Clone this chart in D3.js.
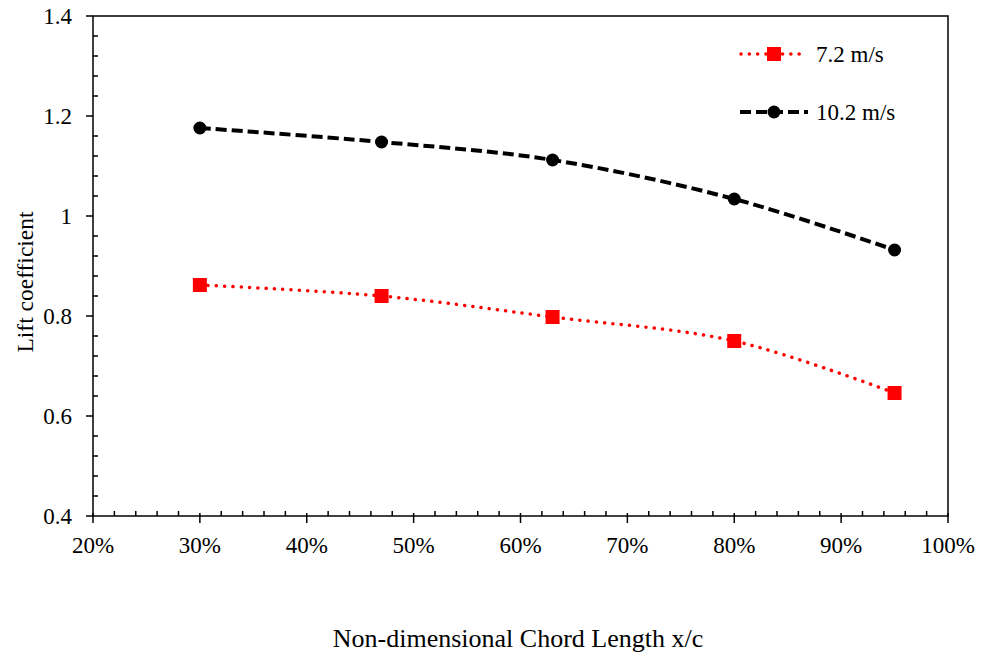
<!DOCTYPE html>
<html>
<head>
<meta charset="utf-8">
<script src="https://cdn.jsdelivr.net/npm/d3@7"></script>
<style>
  body { margin: 0; background: #fff; }
  svg { display: block; }
  text { font-family: "Liberation Serif", "Times New Roman", serif; fill: #000; }
</style>
</head>
<body>
<div id="chart"></div>
<script>
const chordPos = [0.30, 0.47, 0.63, 0.80, 0.95];
const lift72 = [0.862, 0.840, 0.798, 0.750, 0.646];
const lift102 = [1.176, 1.148, 1.112, 1.034, 0.932];
const seriesNames = ["7.2 m/s", "10.2 m/s"];
const xTicks = [0.2, 0.3, 0.4, 0.5, 0.6, 0.7, 0.8, 0.9, 1.0];
const yTicks = [0.4, 0.6, 0.8, 1.0, 1.2, 1.4];

const width = 983;
const height = 657;
const margin = { left: 93, right: 35, top: 16, bottom: 141 };

const svg = d3.select("#chart")
  .append("svg")
  .attr("width", width)
  .attr("height", height);

const x = d3.scaleLinear().domain([0.2, 1.0]).range([margin.left, width - margin.right]);
const y = d3.scaleLinear().domain([0.4, 1.4]).range([height - margin.bottom, margin.top]);

// frame
svg.append("rect")
  .attr("x", x(0.2))
  .attr("y", y(1.4))
  .attr("width", x(1.0) - x(0.2))
  .attr("height", y(0.4) - y(1.4))
  .attr("fill", "none")
  .attr("stroke", "#000")
  .attr("stroke-width", 1.5);

// y axis: major ticks outside, minor inside
const yMinor = d3.range(0.44, 1.4, 0.04).filter(v => Math.abs(v * 5 - Math.round(v * 5)) > 1e-6);
svg.append("g")
  .selectAll("line")
  .data(yTicks)
  .enter()
  .append("line")
  .attr("x1", x(0.2) - 7)
  .attr("x2", x(0.2))
  .attr("y1", d => y(d))
  .attr("y2", d => y(d))
  .attr("stroke", "#000")
  .attr("stroke-width", 1.5);
svg.append("g")
  .selectAll("line")
  .data(yMinor)
  .enter()
  .append("line")
  .attr("x1", x(0.2))
  .attr("x2", x(0.2) + 5)
  .attr("y1", d => y(d))
  .attr("y2", d => y(d))
  .attr("stroke", "#000")
  .attr("stroke-width", 1.5);
svg.append("g")
  .selectAll("text")
  .data(yTicks)
  .enter()
  .append("text")
  .attr("x", x(0.2) - 21)
  .attr("y", d => y(d))
  .attr("dy", "0.33em")
  .attr("text-anchor", "end")
  .attr("font-size", "23px")
  .text(d => d === 1 ? "1" : d3.format(".1f")(d));

// x axis
const xMinor = d3.range(0.22, 1.0, 0.02).filter(v => Math.abs(v * 10 - Math.round(v * 10)) > 1e-6);
svg.append("g")
  .selectAll("line")
  .data(xTicks)
  .enter()
  .append("line")
  .attr("x1", d => x(d))
  .attr("x2", d => x(d))
  .attr("y1", y(0.4) - 3)
  .attr("y2", y(0.4) + 7)
  .attr("stroke", "#000")
  .attr("stroke-width", 1.5);
svg.append("g")
  .selectAll("line")
  .data(xMinor)
  .enter()
  .append("line")
  .attr("x1", d => x(d))
  .attr("x2", d => x(d))
  .attr("y1", y(0.4) - 5)
  .attr("y2", y(0.4))
  .attr("stroke", "#000")
  .attr("stroke-width", 1.5);
svg.append("g")
  .selectAll("text")
  .data(xTicks)
  .enter()
  .append("text")
  .attr("x", d => x(d))
  .attr("y", y(0.4) + 37)
  .attr("text-anchor", "middle")
  .attr("font-size", "23px")
  .text(d => d3.format(".0%")(d));

// axis titles
svg.append("text")
  .attr("transform", "translate(33, 282) rotate(-90)")
  .attr("text-anchor", "middle")
  .attr("font-size", "23.5px")
  .text("Lift coefficient");
svg.append("text")
  .attr("x", 518)
  .attr("y", 647)
  .attr("text-anchor", "middle")
  .attr("font-size", "26px")
  .text("Non-dimensional Chord Length x/c");

const line = d3.line()
  .x(d => x(d[0]))
  .y(d => y(d[1]))
  .curve(d3.curveCatmullRom.alpha(0.5));

const redData = chordPos.map((c, i) => [c, lift72[i]]);
const blackData = chordPos.map((c, i) => [c, lift102[i]]);

svg.append("path")
  .datum(redData)
  .attr("d", line)
  .attr("fill", "none")
  .attr("stroke", "#ff0000")
  .attr("stroke-width", 3.5)
  .attr("stroke-linecap", "round")
  .attr("stroke-dasharray", "0.1,8.2");

svg.append("path")
  .datum(blackData)
  .attr("d", line)
  .attr("fill", "none")
  .attr("stroke", "#000")
  .attr("stroke-width", 4)
  .attr("stroke-dasharray", "11,5");

svg.append("g")
  .selectAll("rect")
  .data(redData)
  .enter()
  .append("rect")
  .attr("x", d => x(d[0]) - 7)
  .attr("y", d => y(d[1]) - 7)
  .attr("width", 14)
  .attr("height", 14)
  .attr("fill", "#ff0000");

svg.append("g")
  .selectAll("circle")
  .data(blackData)
  .enter()
  .append("circle")
  .attr("cx", d => x(d[0]))
  .attr("cy", d => y(d[1]))
  .attr("r", 6.5)
  .attr("fill", "#000");

// legend
const lg = svg.append("g");
lg.append("line")
  .attr("x1", 741).attr("x2", 807).attr("y1", 54).attr("y2", 54)
  .attr("stroke", "#ff0000").attr("stroke-width", 3.5)
  .attr("stroke-linecap", "round").attr("stroke-dasharray", "0.1,8.2");
lg.append("rect")
  .attr("x", 767).attr("y", 47).attr("width", 14).attr("height", 14)
  .attr("fill", "#ff0000");
lg.append("text")
  .attr("x", 816).attr("y", 62)
  .attr("font-size", "23px")
  .text(seriesNames[0]);

lg.append("line")
  .attr("x1", 740).attr("x2", 808).attr("y1", 112).attr("y2", 112)
  .attr("stroke", "#000").attr("stroke-width", 4)
  .attr("stroke-dasharray", "11,5");
lg.append("circle")
  .attr("cx", 774).attr("cy", 112).attr("r", 6.5)
  .attr("fill", "#000");
lg.append("text")
  .attr("x", 816).attr("y", 120)
  .attr("font-size", "23px")
  .text(seriesNames[1]);
</script>
</body>
</html>
